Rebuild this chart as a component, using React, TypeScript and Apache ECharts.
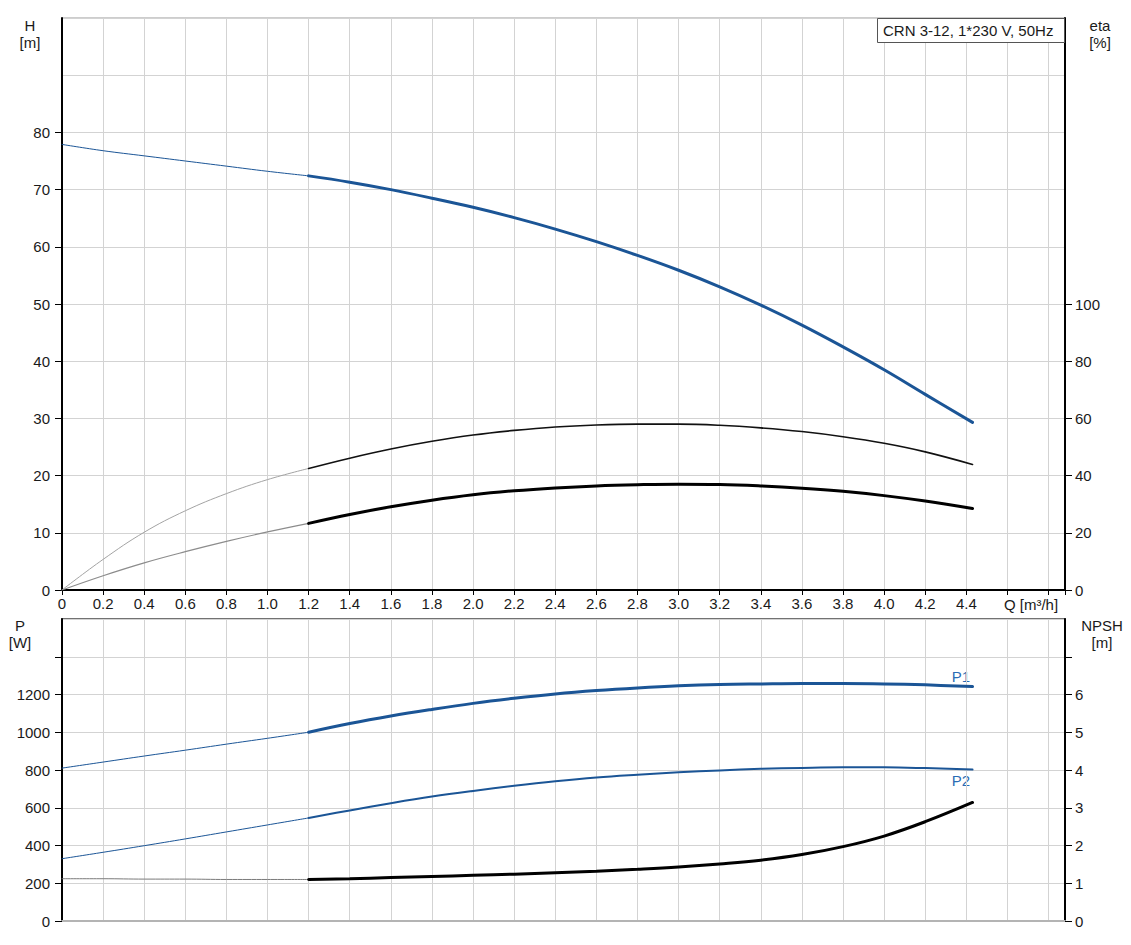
import React, { useEffect, useRef } from "react";
import * as echarts from "echarts";

// ---- data ----
const Q_LOW = [0, 0.2, 0.4, 0.6, 0.8, 1.0, 1.2];
const Q_HIGH = [1.2, 1.4, 1.6, 1.8, 2.0, 2.2, 2.4, 2.6, 2.8, 3.0, 3.2, 3.4, 3.6, 3.8, 4.0, 4.2, 4.43];

const H_LOW = [77.9, 76.8, 75.9, 75.0, 74.1, 73.2, 72.4];
const H_HIGH = [72.4, 71.3, 70.0, 68.5, 66.9, 65.1, 63.1, 60.9, 58.5, 55.9, 53.0, 49.8, 46.3, 42.5, 38.5, 34.2, 29.3];

const ETA1_LOW = [0, 10.7, 20.2, 27.7, 33.7, 38.6, 42.5];
const ETA1_HIGH = [42.5, 46.1, 49.3, 52.0, 54.2, 55.8, 57.0, 57.7, 58.0, 58.0, 57.6, 56.7, 55.4, 53.6, 51.3, 48.3, 43.9];

const ETA2_LOW = [0, 5.0, 9.5, 13.4, 17.0, 20.3, 23.3];
const ETA2_HIGH = [23.3, 26.4, 29.1, 31.4, 33.3, 34.7, 35.7, 36.4, 36.8, 37.0, 36.9, 36.4, 35.6, 34.5, 33.0, 31.1, 28.5];

const P1_LOW = [810, 842, 874, 905, 937, 968, 1000];
const P1_HIGH = [1000, 1046, 1086, 1121, 1153, 1180, 1203, 1221, 1235, 1246, 1253, 1256, 1258, 1258, 1256, 1251, 1242];

const P2_LOW = [330, 364, 399, 435, 472, 509, 546];
const P2_HIGH = [546, 586, 624, 659, 689, 716, 740, 760, 775, 788, 798, 806, 811, 814, 814, 810, 802];

const NPSH_LOW = [1.12, 1.12, 1.11, 1.11, 1.1, 1.1, 1.1];
const NPSH_HIGH = [1.1, 1.12, 1.15, 1.18, 1.21, 1.24, 1.28, 1.32, 1.37, 1.43, 1.51, 1.61, 1.76, 1.97, 2.25, 2.63, 3.14];

const H_TICKS = [0, 10, 20, 30, 40, 50, 60, 70, 80];
const ETA_TICKS = [0, 20, 40, 60, 80, 100];
const P_TICKS = [0, 200, 400, 600, 800, 1000, 1200, 1400];
const P_LABELS = [0, 200, 400, 600, 800, 1000, 1200];
const NPSH_TICKS = [0, 1, 2, 3, 4, 5, 6, 7];
const NPSH_LABELS = [0, 1, 2, 3, 4, 5, 6];

const TITLE = "CRN 3-12, 1*230 V, 50Hz";

const BLUE = "#1b5596";
const LABEL_BLUE = "#2a6cb4";
const FONT = "'Liberation Sans', Arial, sans-serif";
const FS = 15;
const TXT = "#1a1a1a";
const GRID_C = "#d3d3d3";

const zip = (xs: number[], ys: number[]) => xs.map((x, i) => [x, ys[i]]);

export default function App() {
  const ref = useRef<HTMLDivElement>(null);

  useEffect(() => {
    if (!ref.current) return;
    const chart = echarts.init(ref.current, null, { renderer: "svg" });

    const xBase = (gridIndex: number, showLabels: boolean) => ({
      type: "value",
      gridIndex,
      min: 0,
      max: 4.88,
      interval: 0.2,
      axisLine: showLabels
        ? { show: true, onZero: false, lineStyle: { color: "#000", width: 2 } }
        : { show: true, onZero: false, lineStyle: { color: "#b4b4b4", width: 2 } },
      axisTick: { show: showLabels, length: 5, lineStyle: { color: "#000" } },
      axisLabel: {
        show: showLabels,
        margin: 6,
        fontSize: FS,
        fontFamily: FONT,
        color: TXT,
        formatter: (v: number) => (v === 0 ? "0" : v > 4.5 ? "" : v.toFixed(1)),
      },
      splitLine: { show: true, lineStyle: { color: GRID_C, width: 1 } },
    });

    const valAxis = (
      gridIndex: number,
      position: string,
      max: number,
      interval: number,
      ticks: number[],
      labels: number[],
      margin: number
    ) => ({
      type: "value",
      gridIndex,
      position,
      min: 0,
      max,
      interval,
      axisLine: { show: true, onZero: false, lineStyle: { color: "#000", width: 2 } },
      axisTick: { show: true, length: 7, customValues: ticks, lineStyle: { color: "#000" } },
      axisLabel: {
        show: true,
        customValues: labels,
        margin,
        fontSize: FS,
        fontFamily: FONT,
        color: TXT,
        formatter: (v: number) => (labels.indexOf(v) >= 0 ? String(v) : ""),
      },
      splitLine: { show: false },
    });

    const helper = (gridIndex: number, max: number, interval: number) => ({
      type: "value",
      gridIndex,
      position: "left",
      min: 0,
      max,
      interval,
      axisLine: { show: false },
      axisTick: { show: false },
      axisLabel: { show: false },
      splitLine: { show: true, lineStyle: { color: GRID_C, width: 1 } },
    });

    const line = (
      data: number[][],
      xAxisIndex: number,
      yAxisIndex: number,
      color: string,
      width: number,
      z = 3
    ) => ({
      type: "line",
      xAxisIndex,
      yAxisIndex,
      data,
      symbol: "none",
      smooth: 0.4,
      silent: true,
      z,
      lineStyle: { color, width, cap: "round" },
    });

    const option: any = {
      animation: false,
      backgroundColor: "#fff",
      grid: [
        { left: 62, top: 18, width: 1003, height: 572, show: true, borderColor: "#9a9a9a", borderWidth: 1, backgroundColor: "transparent" },
        { left: 62, top: 619, width: 1003, height: 302, show: true, borderColor: "#444", borderWidth: 1.5, backgroundColor: "transparent" },
      ],
      xAxis: [xBase(0, true), xBase(1, false)],
      yAxis: [
        valAxis(0, "left", 100, 10, H_TICKS, H_TICKS, 12),
        valAxis(0, "right", 200, 20, ETA_TICKS, ETA_TICKS, 10),
        helper(0, 100, 10),
        valAxis(1, "left", 1600, 200, P_TICKS, P_LABELS, 12),
        valAxis(1, "right", 8, 1, NPSH_TICKS, NPSH_LABELS, 10),
        helper(1, 8, 1),
      ],
      series: [
        line(zip(Q_LOW, H_LOW), 0, 0, BLUE, 1),
        line(zip(Q_HIGH, H_HIGH), 0, 0, BLUE, 3, 4),
        line(zip(Q_LOW, ETA1_LOW), 0, 1, "#a3a3a3", 1),
        line(zip(Q_HIGH, ETA1_HIGH), 0, 1, "#111", 1.6, 4),
        line(zip(Q_LOW, ETA2_LOW), 0, 1, "#8c8c8c", 1.2),
        line(zip(Q_HIGH, ETA2_HIGH), 0, 1, "#000", 3, 4),
        line(zip(Q_LOW, P1_LOW), 1, 3, BLUE, 1),
        line(zip(Q_HIGH, P1_HIGH), 1, 3, BLUE, 3, 4),
        line(zip(Q_LOW, P2_LOW), 1, 3, BLUE, 1),
        line(zip(Q_HIGH, P2_HIGH), 1, 3, BLUE, 2, 4),
        line(zip(Q_LOW, NPSH_LOW), 1, 4, "#7a7a7a", 1),
        line(zip(Q_HIGH, NPSH_HIGH), 1, 4, "#000", 3, 4),
      ],
      graphic: [
        {
          type: "rect",
          shape: { x: 877.5, y: 18.5, width: 187, height: 24 },
          style: { fill: "#fff", stroke: "#555", lineWidth: 1 },
          z: 10,
        },
        {
          type: "text",
          x: 883,
          y: 30.5,
          style: { text: TITLE, font: `${FS}px ${FONT}`, fill: TXT, verticalAlign: "middle" },
          z: 11,
        },
        {
          type: "text",
          x: 30,
          y: 17,
          style: { text: "H\n[m]", font: `${FS}px ${FONT}`, fill: TXT, align: "center", lineHeight: 17 },
        },
        {
          type: "text",
          x: 1100,
          y: 17,
          style: { text: "eta\n[%]", font: `${FS}px ${FONT}`, fill: TXT, align: "center", lineHeight: 17 },
        },
        {
          type: "text",
          x: 20,
          y: 617,
          style: { text: "P\n[W]", font: `${FS}px ${FONT}`, fill: TXT, align: "center", lineHeight: 17 },
        },
        {
          type: "text",
          x: 1102,
          y: 617,
          style: { text: "NPSH\n[m]", font: `${FS}px ${FONT}`, fill: TXT, align: "center", lineHeight: 17 },
        },
        {
          type: "text",
          x: 1031,
          y: 604,
          style: { text: "Q [m³/h]", font: `${FS}px ${FONT}`, fill: TXT, align: "center", verticalAlign: "middle" },
        },
        {
          type: "text",
          x: 961,
          y: 676,
          style: { text: "P1", font: `${FS}px ${FONT}`, fill: LABEL_BLUE, align: "center", verticalAlign: "middle" },
        },
        {
          type: "text",
          x: 961,
          y: 780,
          style: { text: "P2", font: `${FS}px ${FONT}`, fill: LABEL_BLUE, align: "center", verticalAlign: "middle" },
        },
      ],
    };

    chart.setOption(option);
    return () => chart.dispose();
  }, []);

  return (
    <div
      ref={ref}
      style={{ position: "absolute", left: 0, top: 0, width: 1131, height: 945, background: "#fff" }}
    />
  );
}
